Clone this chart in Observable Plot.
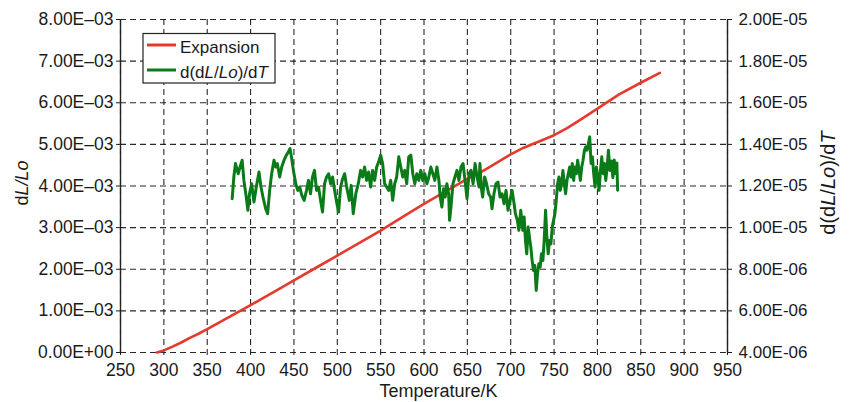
<!DOCTYPE html>
<html>
<head>
<meta charset="utf-8">
<script src="https://cdn.jsdelivr.net/npm/d3@7"></script>
<script src="https://cdn.jsdelivr.net/npm/@observablehq/plot@0.6"></script>
<style>
html, body { margin: 0; padding: 0; background: #fff; }
#chart { width: 849px; height: 402px; }
</style>
</head>
<body>
<div id="chart"></div>
<script>
// ---- axis ticks and labels ----
const xTicks = [250, 300, 350, 400, 450, 500, 550, 600, 650, 700, 750, 800, 850, 900, 950];
const leftTicks = [0, 0.001, 0.002, 0.003, 0.004, 0.005, 0.006, 0.007, 0.008];
const leftLabels = ["0.00E+00", "1.00E\u201303", "2.00E\u201303", "3.00E\u201303", "4.00E\u201303",
  "5.00E\u201303", "6.00E\u201303", "7.00E\u201303", "8.00E\u201303"];
const rightTicks = [4e-6, 6e-6, 8e-6, 10e-6, 12e-6, 14e-6, 16e-6, 18e-6, 20e-6];
const rightLabels = ["4.00E-06", "6.00E-06", "8.00E-06", "1.00E-05", "1.20E-05",
  "1.40E-05", "1.60E-05", "1.80E-05", "2.00E-05"];

// ---- Expansion (dL/Lo, left axis) ----
const expT = [292, 300, 310, 320, 330, 340, 350, 375, 400, 425, 450, 475, 500, 525, 550, 575,
  600, 625, 650, 665, 675, 700, 715, 734, 750, 765, 781, 800, 825, 850, 872];
const expV = [0, 0.00005, 0.00014, 0.00024, 0.00035, 0.00045, 0.00056, 0.00085, 0.00114, 0.00143,
  0.00173, 0.00203, 0.00233, 0.00263, 0.00293, 0.00325, 0.00357, 0.00387, 0.00417, 0.00433,
  0.00445, 0.00476, 0.00492, 0.00508, 0.00522, 0.00539, 0.0056, 0.00586, 0.0062, 0.00648, 0.00672];

// ---- d(dL/Lo)/dT (right axis) ----
const derT = [378.8, 380.7, 382.6, 385.7, 388.4, 390.3, 392.3, 395, 396.9, 398.8, 401.2, 403.9,
  406.6, 409.7, 412, 414.3, 417.4, 419.7, 422, 424.3, 427, 429, 430.9, 433.6, 435.9, 438.6, 441.3,
  443.6, 445.5, 447.1, 449.4, 452.1, 454.4, 456.7, 459.1, 461.8, 464.5, 466.8, 469.1, 471.4, 473.7,
  476.1, 478.4, 480.7, 483, 485.3, 487.6, 490, 492.3, 494.6, 496.9, 499.2, 501.5, 503.8, 506.2,
  508.5, 510.8, 513.9, 516, 518.4, 521.4, 524.2, 526.9, 529.2, 531.5, 533.8, 536.1, 538.4, 540.7,
  543.1, 545.4, 547.7, 550, 552.3, 554.6, 557, 559.3, 561.6, 563.9, 566.2, 568.5, 570.9, 573.2,
  575.5, 577.8, 580.1, 582.4, 584.8, 587.1, 589.4, 591.7, 594, 596.3, 598.6, 601, 603.3, 605.6,
  607.9, 610.2, 612.5, 614.9, 617.2, 618.7, 620.6, 622.6, 624.5, 626.4, 628.4, 629.5, 631.1, 633.4,
  635.7, 638, 640.3, 642.7, 645, 647.3, 649.6, 651.9, 654.2, 656.6, 658.9, 661.2, 663.5, 664.5, 666,
  667.6, 669.9, 672.2, 674.5, 676.9, 678.4, 680.7, 683, 685.3, 687.7, 690, 692.3, 694.6, 696.9,
  699.2, 701.6, 703.9, 705.4, 707.7, 709.3, 711.6, 713.9, 715.5, 717, 718.5, 720.1, 721.6, 723.2,
  724.7, 726.3, 727.8, 729.4, 730.9, 732.4, 734, 735.5, 737.1, 738.6, 740.2, 741.7, 743.2, 744.8,
  746.3, 747.9, 749.4, 751, 752.5, 754.1, 755.6, 757.1, 758.7, 760.2, 761.8, 763.3, 764.9, 766.4,
  768, 769.5, 771, 772.6, 774.1, 775.7, 777.2, 778.8, 780.3, 781.9, 783.4, 785, 786.5, 788, 789.6,
  791.1, 792.7, 794.2, 795.7, 797.3, 798.8, 800.4, 801.9, 803.5, 805, 806.6, 808.1, 809.6, 811.2,
  812.7, 814.3, 816.2, 817.8, 819.4, 821, 822.4, 823.3];
const derV = [11.39e-6, 12.43e-6, 13.08e-6, 12.59e-6, 12.99e-6, 13.24e-6, 12.27e-6, 11.47e-6,
  10.83e-6, 11.63e-6, 12.11e-6, 11.23e-6, 11.95e-6, 12.67e-6, 11.95e-6, 11.47e-6, 10.91e-6,
  10.67e-6, 11.79e-6, 12.59e-6, 13.24e-6, 12.91e-6, 13.08e-6, 12.43e-6, 12.91e-6, 13.24e-6,
  13.48e-6, 13.64e-6, 13.8e-6, 13.4e-6, 12.75e-6, 12.11e-6, 11.79e-6, 11.95e-6, 11.55e-6, 11.31e-6,
  11.79e-6, 12.27e-6, 11.63e-6, 12.43e-6, 12.75e-6, 11.79e-6, 11.95e-6, 11.31e-6, 10.75e-6,
  12.11e-6, 12.43e-6, 12.59e-6, 12.11e-6, 12.43e-6, 11.79e-6, 11.23e-6, 10.75e-6, 11.95e-6,
  12.35e-6, 12.59e-6, 11.95e-6, 11.31e-6, 12.03e-6, 10.67e-6, 11.63e-6, 12.11e-6, 12.75e-6,
  12.43e-6, 12.91e-6, 12.27e-6, 12.67e-6, 11.95e-6, 12.75e-6, 12.27e-6, 12.91e-6, 13.16e-6,
  13.48e-6, 13.08e-6, 12.11e-6, 11.95e-6, 11.79e-6, 12.27e-6, 11.31e-6, 12.11e-6, 12.43e-6,
  13.4e-6, 12.91e-6, 12.43e-6, 12.75e-6, 12.11e-6, 13.4e-6, 13.48e-6, 12.59e-6, 12.11e-6,
  12.59e-6, 12.27e-6, 12.75e-6, 12.27e-6, 12.59e-6, 12.11e-6, 12.43e-6, 12.91e-6, 12.59e-6,
  12.27e-6, 12.91e-6, 12.27e-6, 11.47e-6, 10.99e-6, 11.87e-6, 11.47e-6, 12.11e-6, 11.63e-6,
  10.35e-6, 10.99e-6, 12.11e-6, 12.43e-6, 12.75e-6, 12.27e-6, 12.91e-6, 13.08e-6, 12.27e-6,
  11.39e-6, 12.59e-6, 12.75e-6, 12.11e-6, 13.08e-6, 12.43e-6, 11.95e-6, 13.08e-6, 11.95e-6,
  11.47e-6, 12.43e-6, 12.11e-6, 11.63e-6, 11.47e-6, 10.91e-6, 11.63e-6, 12.11e-6, 12.19e-6,
  11.47e-6, 11.63e-6, 11.15e-6, 11.79e-6, 10.83e-6, 11.31e-6, 11.79e-6, 11.15e-6, 10.67e-6,
  10.35e-6, 9.87e-6, 10.83e-6, 9.87e-6, 10.51e-6, 9.38e-6, 8.74e-6, 10.03e-6, 9.54e-6, 9.06e-6,
  8.42e-6, 7.94e-6, 8.18e-6, 6.98e-6, 7.78e-6, 8.26e-6, 8.10e-6, 8.74e-6, 8.42e-6, 9.38e-6,
  10.83e-6, 9.54e-6, 8.74e-6, 9.38e-6, 9.22e-6, 10.03e-6, 10.35e-6, 10.67e-6, 11.31e-6, 12.11e-6,
  12.43e-6, 11.79e-6, 12.11e-6, 12.75e-6, 12.11e-6, 11.63e-6, 12.27e-6, 12.59e-6, 12.91e-6,
  12.43e-6, 13.08e-6, 12.27e-6, 12.91e-6, 12.59e-6, 13.24e-6, 12.75e-6, 12.27e-6, 12.91e-6,
  13.24e-6, 13.72e-6, 13.88e-6, 13.72e-6, 14.04e-6, 14.36e-6, 13.08e-6, 13.4e-6, 12.59e-6,
  11.95e-6, 12.91e-6, 12.43e-6, 11.79e-6, 12.75e-6, 13.4e-6, 12.59e-6, 13.08e-6, 12.27e-6,
  12.91e-6, 13.72e-6, 12.75e-6, 13.2e-6, 12.4e-6, 13.25e-6, 12.6e-6, 13.1e-6, 11.8e-6];

// ---- build chart ----
const W = 849, H = 402;
const yMax = leftTicks[leftTicks.length - 1];
const rMin = rightTicks[0], rMax = rightTicks[rightTicks.length - 1];
const toLeft = v => (v - rMin) / (rMax - rMin) * yMax;
const rightMapped = rightTicks.map(toLeft);
const nearestIdx = (arr, d) => {
  let bi = 0, bd = Infinity;
  arr.forEach((a, i) => { const dd = Math.abs(a - d); if (dd < bd) { bd = dd; bi = i; } });
  return bi;
};
const expansion = expT.map((t, i) => ({T: t, v: expV[i]}));
const deriv = derT.map((t, i) => ({T: t, v: derV[i]}));

const FONT = "'Liberation Sans', Arial, Helvetica, sans-serif";
const gridStyle = {stroke: "#111", strokeOpacity: 0.9, strokeWidth: 1.1, strokeDasharray: "6,4"};

const chart = Plot.plot({
  width: W, height: H,
  marginLeft: 120, marginRight: 122, marginTop: 19, marginBottom: 50,
  style: {fontFamily: FONT, fontSize: "17.5px", color: "#1a1a1a", background: "#fff", overflow: "visible"},
  x: {domain: [xTicks[0], xTicks[xTicks.length - 1]]},
  y: {domain: [0, yMax]},
  marks: [
    Plot.gridX(xTicks, gridStyle),
    Plot.gridY(leftTicks, gridStyle),
    Plot.ruleX([xTicks[0], xTicks[xTicks.length - 1]], {stroke: "#222", strokeWidth: 1.4}),
    Plot.axisX(xTicks, {anchor: "bottom", tickSize: 3, tickPadding: 8, label: null,
      tickFormat: d => String(d), fontSize: 17.5}),
    Plot.axisY(leftTicks, {anchor: "left", tickSize: 4, tickPadding: 3, label: null,
      tickFormat: d => leftLabels[nearestIdx(leftTicks, d)], fontSize: 17.5}),
    Plot.axisY(rightMapped, {anchor: "right", tickSize: 4, tickPadding: 7, label: null,
      tickFormat: d => rightLabels[nearestIdx(rightMapped, d)], fontSize: 17}),
    Plot.line(expansion, {x: "T", y: "v", stroke: "#e43a2c", strokeWidth: 2.6}),
    Plot.line(deriv, {x: "T", y: d => toLeft(d.v), stroke: "#0b7a18", strokeWidth: 3,
      strokeLinejoin: "round"})
  ]
});
document.getElementById("chart").appendChild(chart);

// ---- titles and legend ----
const svg = d3.select(chart);
function richText(g, parts) {
  parts.forEach(([t, it]) => {
    const s = g.append("tspan").text(t);
    if (it) s.attr("font-style", "italic");
  });
}
svg.append("text")
  .attr("x", 438.5).attr("y", 397)
  .attr("text-anchor", "middle").attr("font-size", 18).attr("font-family", FONT).attr("fill", "#1a1a1a")
  .text("Temperature/K");

const lt = svg.append("text")
  .attr("transform", "translate(28,183) rotate(-90)")
  .attr("text-anchor", "middle").attr("font-size", 18).attr("font-family", FONT).attr("fill", "#1a1a1a");
richText(lt, [["d", false], ["L/Lo", true]]);

const rt = svg.append("text")
  .attr("transform", "translate(835,183) rotate(-90)")
  .attr("text-anchor", "middle").attr("font-size", 20).attr("font-family", FONT).attr("fill", "#1a1a1a");
richText(rt, [["d(d", false], ["L", true], ["/", false], ["Lo", true], [")/d", false], ["T", true]]);

const lg = svg.append("g").attr("text-anchor", "start");
lg.append("rect").attr("x", 143).attr("y", 33.5).attr("width", 132).attr("height", 49.5)
  .attr("fill", "#fff").attr("stroke", "#222").attr("stroke-width", 1.2);
lg.append("line").attr("x1", 147).attr("x2", 176).attr("y1", 45).attr("y2", 45)
  .attr("stroke", "#e43a2c").attr("stroke-width", 3);
lg.append("line").attr("x1", 147).attr("x2", 176).attr("y1", 70).attr("y2", 70)
  .attr("stroke", "#0b7a18").attr("stroke-width", 3);
lg.append("text").attr("x", 180).attr("y", 53).attr("font-size", 17).attr("font-family", FONT)
  .attr("text-anchor", "start").attr("fill", "#1a1a1a").text("Expansion");
const l2 = lg.append("text").attr("x", 180).attr("y", 78).attr("font-size", 17).attr("font-family", FONT)
  .attr("text-anchor", "start").attr("fill", "#1a1a1a");
richText(l2, [["d(d", false], ["L", true], ["/", false], ["Lo", true], [")/d", false], ["T", true]]);
</script>
</body>
</html>
